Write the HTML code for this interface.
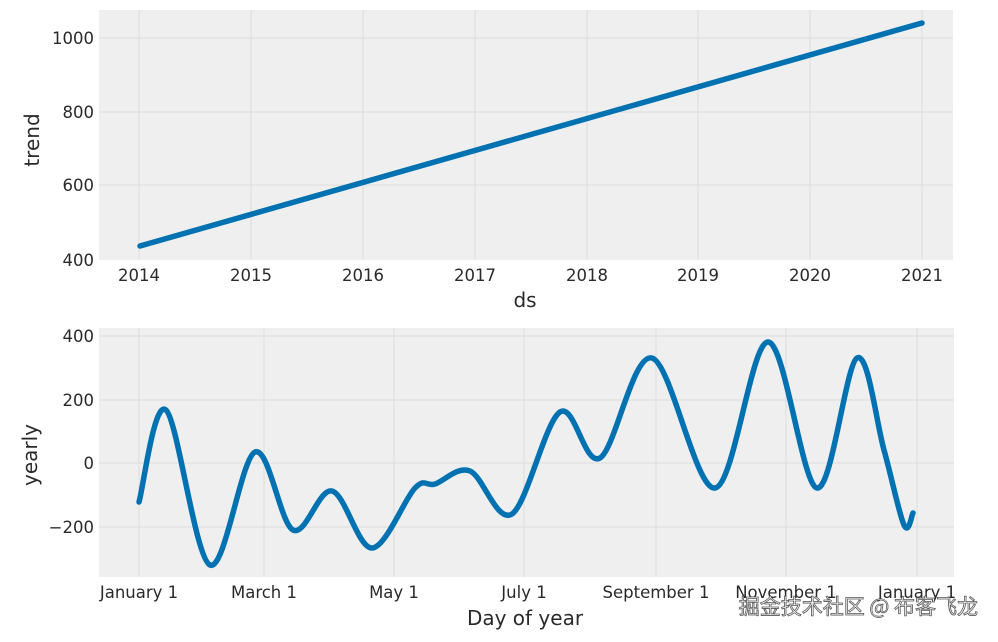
<!DOCTYPE html>
<html><head><meta charset="utf-8"><style>
html,body{margin:0;padding:0;background:#fff;}
svg{display:block;font-family:"DejaVu Sans","Liberation Sans",sans-serif;}
</style></head><body>
<svg id="s" width="998" height="642" viewBox="0 0 998 642">
<rect x="99" y="10" width="854" height="250" fill="#efefef"/>
<rect x="99" y="328" width="855" height="249" fill="#efefef"/>
<g stroke="#dcdcdc" stroke-width="1">
<line x1="99" x2="953" y1="38" y2="38"/><line x1="99" x2="953" y1="112" y2="112"/><line x1="99" x2="953" y1="185" y2="185"/>
<line x1="139" x2="139" y1="10" y2="260"/><line x1="251" x2="251" y1="10" y2="260"/><line x1="363" x2="363" y1="10" y2="260"/><line x1="475" x2="475" y1="10" y2="260"/><line x1="587" x2="587" y1="10" y2="260"/><line x1="698" x2="698" y1="10" y2="260"/><line x1="810" x2="810" y1="10" y2="260"/><line x1="922" x2="922" y1="10" y2="260"/>
<line x1="99" x2="954" y1="336" y2="336"/><line x1="99" x2="954" y1="400" y2="400"/><line x1="99" x2="954" y1="463" y2="463"/><line x1="99" x2="954" y1="527" y2="527"/>
<line x1="139" x2="139" y1="328" y2="577"/><line x1="264" x2="264" y1="328" y2="577"/><line x1="394" x2="394" y1="328" y2="577"/><line x1="524" x2="524" y1="328" y2="577"/><line x1="656" x2="656" y1="328" y2="577"/><line x1="786" x2="786" y1="328" y2="577"/><line x1="917" x2="917" y1="328" y2="577"/>
</g>
<line x1="140" y1="246" x2="922" y2="23" stroke="#0072b2" stroke-width="5.5" stroke-linecap="round"/>
<path id="yr" fill="none" stroke="#0072b2" stroke-width="5.5" stroke-linecap="round" stroke-linejoin="round"/>
<g fill="#2a2a2a" font-size="16.5">
<g text-anchor="end"><text x="94" y="44">1000</text><text x="94" y="118">800</text><text x="94" y="191">600</text><text x="94" y="266">400</text>
<text x="94" y="342">400</text><text x="94" y="406">200</text><text x="94" y="469">0</text><text x="94" y="533">−200</text></g>
<g text-anchor="middle"><text x="139" y="281">2014</text><text x="251" y="281">2015</text><text x="363" y="281">2016</text><text x="475" y="281">2017</text><text x="587" y="281">2018</text><text x="698" y="281">2019</text><text x="810" y="281">2020</text><text x="922" y="281">2021</text>
<text x="139" y="598">January 1</text><text x="264" y="598">March 1</text><text x="394" y="598">May 1</text><text x="524" y="598">July 1</text><text x="656" y="598">September 1</text><text x="786" y="598">November 1</text><text x="917" y="598">January 1</text></g>
</g>
<g fill="#2a2a2a" font-size="20" text-anchor="middle">
<text x="525" y="307">ds</text><text x="525" y="625">Day of year</text>
<text transform="translate(39,140) rotate(-90)">trend</text>
<text transform="translate(37,455) rotate(-90)">yearly</text>
</g>
<text x="978" y="614" text-anchor="end" font-size="21" fill="#fff" stroke="#555" stroke-width="0.8" font-family="'Noto Sans CJK SC',sans-serif">掘金技术社区 @ 布客飞龙</text>
</svg>
<script>
var p=[[139,502],[166,410],[210,565],[255,452],[293,530],[332,491],[372,548],[415,488],[435,484],[470,471],[512,514],[560,412],[600,458],[652,358],[715,488],[768,342],[817,488],[857,358],[884,450],[904,525],[913,513]];
var d="M"+p[0][0]+","+p[0][1];
for(var i=0;i<p.length-1;i++){var a=p[Math.max(i-1,0)],b=p[i],c=p[i+1],e=p[Math.min(i+2,p.length-1)];
d+=" C"+(b[0]+(c[0]-a[0])/6)+","+(b[1]+(c[1]-a[1])/6)+" "+(c[0]-(e[0]-b[0])/6)+","+(c[1]-(e[1]-b[1])/6)+" "+c[0]+","+c[1];}
document.getElementById("yr").setAttribute("d",d);
</script>
</body></html>
